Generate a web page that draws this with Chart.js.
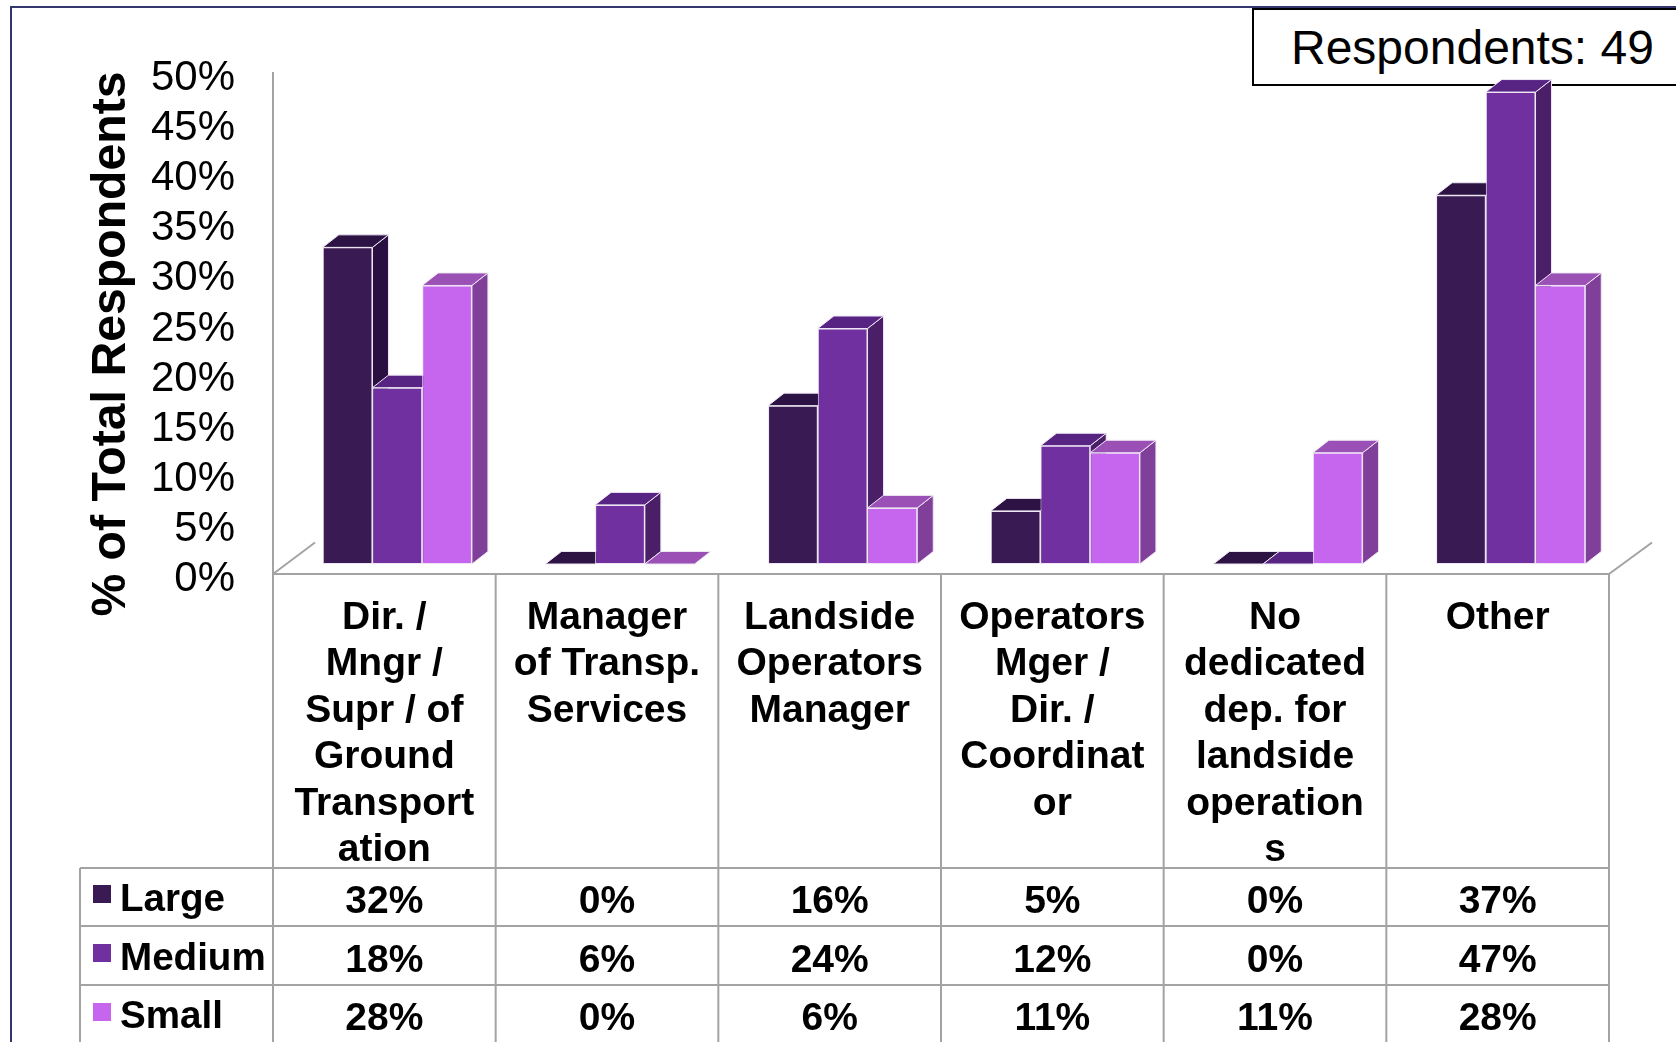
<!DOCTYPE html>
<html>
<head>
<meta charset="utf-8">
<title>Respondents chart</title>
<script src="https://cdn.jsdelivr.net/npm/chart.js@4/dist/chart.umd.min.js"></script>
<style>
    html, body { margin: 0; padding: 0; background: #fff; overflow: hidden; }
    #frame { position: absolute; left: 10px; top: 6px; width: 1680px; height: 1100px; border-left: 2px solid #35356e; border-top: 2px solid #35356e; }
    #respondents { position: absolute; left: 1252px; top: 8px; width: 430px; height: 74px; border: 2px solid #000; background: #fff;
        font: 48px "Liberation Sans"; line-height: 76px; padding-left: 37px; box-sizing: content-box; white-space: nowrap; }
    #salesChart { position: absolute; left: 0; top: 0; }
</style>
</head>
<body>
<div id="frame"></div>
<div id="respondents">Respondents: 49</div>
<canvas id="salesChart" width="1676" height="1042"></canvas>
<script>
const categories = [
    ['Dir. /', 'Mngr /', 'Supr / of', 'Ground', 'Transport', 'ation'],
    ['Manager', 'of Transp.', 'Services'],
    ['Landside', 'Operators', 'Manager'],
    ['Operators', 'Mger /', 'Dir. /', 'Coordinat', 'or'],
    ['No', 'dedicated', 'dep. for', 'landside', 'operation', 's'],
    ['Other']
];
const seriesNames = ['Large', 'Medium', 'Small'];
const largeValues = [31.6, 0, 15.8, 5.3, 0, 36.8];
const mediumValues = [17.6, 5.9, 23.5, 11.8, 0, 47.1];
const smallValues = [27.8, 0, 5.6, 11.1, 11.1, 27.8];
const yTicks = [0, 5, 10, 15, 20, 25, 30, 35, 40, 45, 50];
const yTitle = '% of Total Respondents';

const frontColors = ['#391a52', '#7030a0', '#c665ee'];
const sideColors = ['#2a1040', '#4a1f68', '#80409a'];
const topColors = ['#2d1344', '#572483', '#9a50b5'];
const gridColor = '#a3a3a3';
const edgeColor = '#eee6f4';

// how far the floor of the 3d box sits behind the axis plane
const floorShift = { x: 13, y: -10 };
const depth = { x: 16, y: -12.5 };

// table under the chart
const tableLeft = 80;
const rowLines = [868, 926, 985];
const rowText = [902, 961, 1019];
const rowLabel = [900, 959, 1017];
const swatchTop = [885, 944, 1003];

function face(ctx, pts, color) {
    ctx.beginPath();
    pts.forEach((p, i) => i ? ctx.lineTo(p[0], p[1]) : ctx.moveTo(p[0], p[1]));
    ctx.closePath();
    ctx.fillStyle = color;
    ctx.fill();
    ctx.strokeStyle = edgeColor;
    ctx.lineWidth = 1;
    ctx.stroke();
}

const bars3d = {
    id: 'bars3d',
    beforeDatasetsDraw(chart) {
        const ctx = chart.ctx;
        ctx.save();
        ctx.translate(floorShift.x, floorShift.y);
        chart.data.datasets.forEach((ds, d) => {
            chart.getDatasetMeta(d).data.forEach(bar => {
                const l = bar.x - bar.width / 2, r = bar.x + bar.width / 2;
                const t = bar.y, b = bar.base;
                if (b - t > 0.5) {
                    face(ctx, [[r, t], [r + depth.x, t + depth.y], [r + depth.x, b + depth.y], [r, b]], sideColors[d]);
                }
                face(ctx, [[l, t], [l + depth.x, t + depth.y], [r + depth.x, t + depth.y], [r, t]], topColors[d]);
                bar.draw(ctx);
            });
        });
        ctx.restore();
        return false; // drawn here so Large goes first and Small ends up in front
    },
    afterDraw(chart) {
        const ctx = chart.ctx;
        const x = chart.scales.x;
        const area = chart.chartArea;
        const cellWidth = (area.right - area.left) / categories.length;
        ctx.save();
        ctx.strokeStyle = gridColor;
        ctx.lineWidth = 2;

        // table lines
        ctx.beginPath();
        for (let i = 0; i <= categories.length; i++) {
            const px = i < categories.length ? x.getPixelForTick(i) - cellWidth / 2 : area.right;
            ctx.moveTo(px, area.bottom);
            ctx.lineTo(px, 1042);
        }
        rowLines.forEach(py => {
            ctx.moveTo(tableLeft, py);
            ctx.lineTo(area.right, py);
        });
        ctx.moveTo(tableLeft, rowLines[0]);
        ctx.lineTo(tableLeft, 1042);

        // floor diagonals
        ctx.moveTo(area.left, area.bottom);
        ctx.lineTo(area.left + 42, area.bottom - 31.5);
        ctx.moveTo(area.right, area.bottom);
        ctx.lineTo(area.right + 43, area.bottom - 31.5);
        ctx.stroke();

        // table text
        ctx.textBaseline = 'middle';
        chart.data.datasets.forEach((ds, d) => {
            ctx.font = 'bold 38.6px "Liberation Sans"';
            ctx.textAlign = 'left';
            ctx.fillStyle = '#000';
            ctx.fillText(seriesNames[d], 120, rowLabel[d]);
            ctx.fillStyle = frontColors[d];
            ctx.fillRect(93, swatchTop[d], 18, 18);
            ctx.fillStyle = '#000';
            ctx.font = 'bold 39px "Liberation Sans"';
            ctx.textAlign = 'center';
            ds.data.forEach((v, i) => {
                ctx.fillText(Math.round(v) + '%', x.getPixelForTick(i), rowText[d]);
            });
        });

        // axis title hangs below the axis in the original
        ctx.translate(112, 344);
        ctx.rotate(-Math.PI / 2);
        ctx.font = 'bold 48.2px "Liberation Sans"';
        ctx.textAlign = 'center';
        ctx.fillText(yTitle, 0, 0);
        ctx.restore();
    }
};

new Chart(document.getElementById('salesChart').getContext('2d'), {
    type: 'bar',
    data: {
        labels: categories,
        datasets: [largeValues, mediumValues, smallValues].map((values, d) => ({
            label: seriesNames[d],
            data: values,
            backgroundColor: frontColors[d],
            borderColor: edgeColor,
            borderWidth: 1,
            borderSkipped: false,
            barPercentage: 1,
            categoryPercentage: 0.67
        }))
    },
    options: {
        responsive: false,
        animation: false,
        layout: { padding: { top: 73, right: 67, left: 0, bottom: 0 } },
        plugins: {
            legend: { display: false },
            tooltip: { enabled: false }
        },
        scales: {
            x: {
                afterFit(scale) { scale.height = 468; },
                grid: { display: false },
                border: { color: gridColor, width: 2 },
                ticks: {
                    autoSkip: false,
                    maxRotation: 0,
                    padding: 13,
                    color: '#000',
                    font: { family: 'Liberation Sans', size: 39, weight: 'bold', lineHeight: 1.19 }
                }
            },
            y: {
                min: 0,
                max: 50,
                afterFit(scale) { scale.width = 273; },
                afterBuildTicks(scale) { scale.ticks = yTicks.map(v => ({ value: v })); },
                grid: { display: false, drawTicks: false },
                border: { color: gridColor, width: 2 },
                ticks: {
                    autoSkip: false,
                    padding: 38,
                    color: '#000',
                    font: { family: 'Liberation Sans', size: 42, lineHeight: '11px' },
                    // empty first line pushes the label down a few px like the original
                    callback: v => ['', v + '%']
                }
            }
        }
    },
    plugins: [bars3d]
});
</script>
</body>
</html>
